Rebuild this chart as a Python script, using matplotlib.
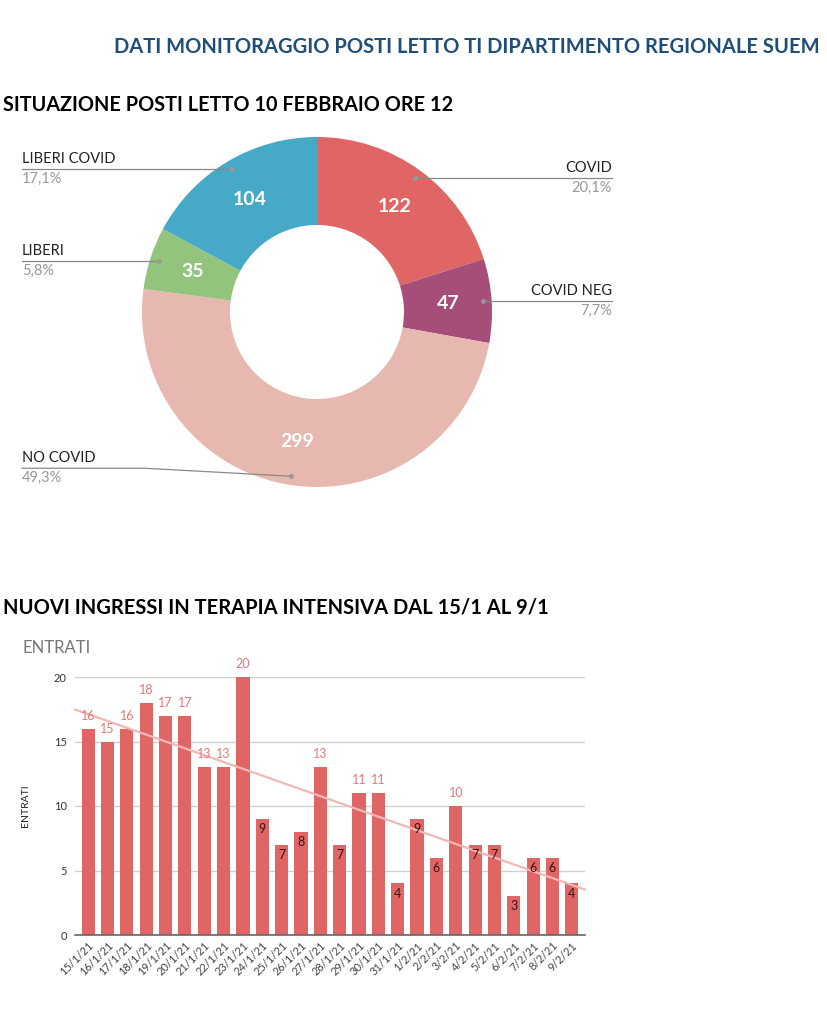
import numpy as np
import matplotlib
matplotlib.use("Agg")
import matplotlib.pyplot as plt
from matplotlib import font_manager

# font: a narrow-ish sans if available
names = set(f.name for f in font_manager.fontManager.ttflist)
FONT = "Liberation Sans Narrow" if "Liberation Sans Narrow" in names else "Lato"
plt.rcParams['font.family'] = [FONT, 'DejaVu Sans']

# donut data
pie_labels = ["COVID", "COVID NEG", "NO COVID", "LIBERI", "LIBERI COVID"]
pie_values = [122, 47, 299, 35, 104]
pie_pct = ["20,1%", "7,7%", "49,3%", "5,8%", "17,1%"]
pie_colors = ["#E06666", "#A64D79", "#E6B8AF", "#93C47D", "#46A9C8"]

# bar data
dates = ["15/1/21", "16/1/21", "17/1/21", "18/1/21", "19/1/21", "20/1/21", "21/1/21",
         "22/1/21", "23/1/21", "24/1/21", "25/1/21", "26/1/21", "27/1/21", "28/1/21",
         "29/1/21", "30/1/21", "31/1/21", "1/2/21", "2/2/21", "3/2/21", "4/2/21",
         "5/2/21", "6/2/21", "7/2/21", "8/2/21", "9/2/21"]
entrati = [16, 15, 16, 18, 17, 17, 13, 13, 20, 9, 7, 8, 13, 7, 11, 11, 4, 9, 6, 10,
           7, 7, 3, 6, 6, 4]

W, H = 827, 1024
fig = plt.figure(figsize=(W / 100, H / 100), dpi=100)
fig.patch.set_facecolor("white")


def fy(y):
    return H - y


# overlay axes in pixel units
bg = fig.add_axes([0, 0, 1, 1])
bg.set_xlim(0, W)
bg.set_ylim(0, H)
bg.axis("off")

bg.text(820, fy(47), "DATI MONITORAGGIO POSTI LETTO TI DIPARTIMENTO REGIONALE SUEM",
        ha="right", va="center", fontsize=14.5, fontweight="bold", color="#1F4E79")
bg.text(3, fy(105), "SITUAZIONE POSTI LETTO 10 FEBBRAIO ORE 12",
        ha="left", va="center", fontsize=14.3, fontweight="bold", color="black")
bg.text(3, fy(607), "NUOVI INGRESSI IN TERAPIA INTENSIVA DAL 15/1 AL 9/1",
        ha="left", va="center", fontsize=14.5, fontweight="bold", color="black")
bg.text(22, fy(648), "ENTRATI", ha="left", va="center", fontsize=12, color="#777777")

# donut
cx, cy, R = 317, fy(312), 175
total = sum(pie_values)
wedges, _, autotexts = bg.pie(pie_values, colors=pie_colors, startangle=90, counterclock=False,
                              center=(cx, cy), radius=R, frame=True,
                              wedgeprops=dict(width=88, linewidth=0),
                              autopct=lambda p: "%d" % round(p * total / 100),
                              pctdistance=0.75,
                              textprops=dict(color="white", fontsize=14, fontweight="bold"))
bg.set_xlim(0, W)
bg.set_ylim(0, H)
bg.set_aspect("auto")
bg.axis("off")

# leader lines and outside labels
for i, w in enumerate(wedges):
    ang = np.deg2rad((w.theta1 + w.theta2) / 2)
    px = cx + 0.95 * R * np.cos(ang)
    py = cy + 0.95 * R * np.sin(ang)
    if px > cx:
        lx, ha = 612, "right"
    else:
        lx, ha = 22, "left"
    if pie_labels[i] == "NO COVID":
        ly = py + 8
        bg.plot([lx, 145, px], [ly, ly, py], color="#888888", lw=0.9)
    else:
        ly = py
        bg.plot([lx, px], [ly, ly], color="#888888", lw=0.9)
    bg.plot(px, py, "o", ms=2.5, color="#999999")
    bg.text(lx, ly + 3, pie_labels[i], ha=ha, va="bottom", fontsize=10.5, color="#222222")
    bg.text(lx, ly - 3, pie_pct[i], ha=ha, va="top", fontsize=10.5, color="#999999")

# bar chart
ax = fig.add_axes([75 / W, 1 - 935 / H, 510 / W, 258 / H])
x = np.arange(len(entrati))
ax.bar(x, entrati, width=0.68, color="#E06666", zorder=2)
ax.set_xlim(-0.68, len(entrati) - 0.32)
ax.set_ylim(0, 20)
ax.set_yticks([0, 5, 10, 15, 20])
ax.grid(axis="y", color="#D0D0D0", lw=1, zorder=0)
ax.set_axisbelow(True)
for s in ["top", "right", "left"]:
    ax.spines[s].set_visible(False)
ax.spines["bottom"].set_color("#666666")
ax.spines["bottom"].set_linewidth(1.2)
ax.spines["bottom"].set_zorder(3)
ax.tick_params(axis="both", length=0, labelsize=8, colors="#333333")
ax.tick_params(axis="y", pad=6)
ax.set_xticks(x)
ax.set_xticklabels(dates, rotation=45, ha="right", rotation_mode="anchor", color="#444444")
ax.set_ylabel("ENTRATI", fontsize=7.5, color="#222222")
ax.yaxis.set_label_coords(-0.088, 0.5)

# trend line
k, b = np.polyfit(x, entrati, 1)
tx = np.array([-0.68, len(entrati) - 0.32])
ax.plot(tx, k * tx + b, color="#F2B8B5", lw=1.6, zorder=3, clip_on=False)

for xi, v in zip(x, entrati):
    if v >= 10:
        ax.annotate(str(v), (xi, v), xytext=(0, 5), textcoords="offset points",
                    ha="center", va="bottom", fontsize=9, color="#E07A7A",
                    annotation_clip=False, zorder=4)
    else:
        ax.annotate(str(v), (xi, v), xytext=(0, -3), textcoords="offset points",
                    ha="center", va="top", fontsize=9, color="#3A1515", zorder=4)

fig.savefig("out.png", dpi=100, facecolor="white")
